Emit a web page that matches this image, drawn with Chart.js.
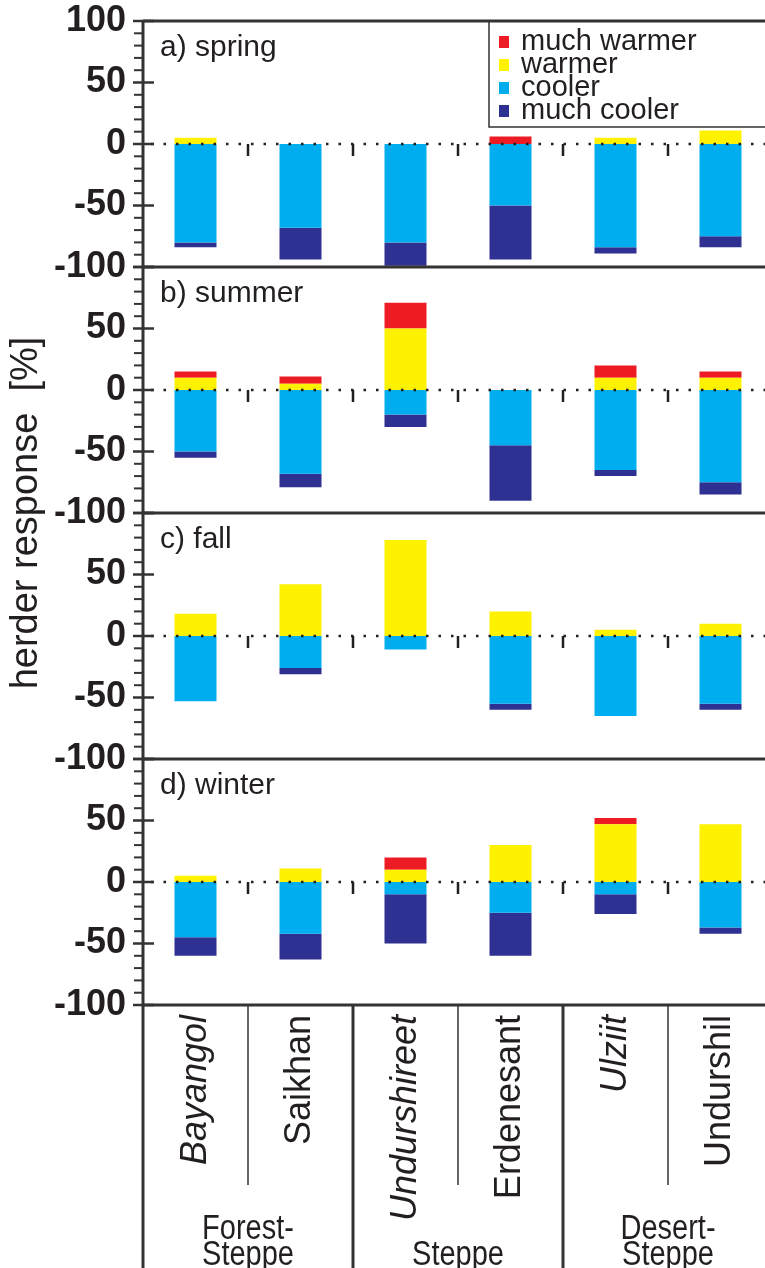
<!DOCTYPE html>
<html>
<head>
<meta charset="utf-8">
<script src="https://cdn.jsdelivr.net/npm/chart.js@4.4.1/dist/chart.umd.min.js"></script>
<style>
  html, body { margin: 0; padding: 0; background: #fff; overflow: hidden; }
  #wrap { width: 780px; height: 1268px; }
</style>
</head>
<body>
<div id="wrap"><canvas id="myChart" width="780" height="1268"></canvas></div>
<script>
// DONNEES (en % des eleveurs)
var sites = ["Bayangol", "Saikhan", "Undurshireet", "Erdenesant", "Ulziit", "Undurshil"];
var italicSites = [true, false, true, false, true, false];
var zones = [["Forest-", "Steppe"], ["", "Steppe"], ["Desert-", "Steppe"]];
var seasons = ["a) spring", "b) summer", "c) fall", "d) winter"];
var seriesNames = ["much warmer", "warmer", "cooler", "much cooler"];
var seriesColors = ["#ed1c24", "#fff200", "#00aeef", "#2e3192"];
var yTicks = [-100, -50, 0, 50, 100];

var springMuchWarmer = [0, 0, 0, 6, 0, 0];
var springWarmer     = [5, 0, 0, 0, 5, 11];
var springCooler     = [-80, -68, -80, -50, -84, -75];
var springMuchCooler = [-4, -26, -19, -44, -5, -9];

var summerMuchWarmer = [5, 6, 21, 0, 10, 5];
var summerWarmer     = [10, 5, 50, 0, 10, 10];
var summerCooler     = [-50, -68, -20, -45, -65, -75];
var summerMuchCooler = [-5, -11, -10, -45, -5, -10];

var fallMuchWarmer = [0, 0, 0, 0, 0, 0];
var fallWarmer     = [18, 42, 78, 20, 5, 10];
var fallCooler     = [-53, -26, -11, -55, -65, -55];
var fallMuchCooler = [0, -5, 0, -5, 0, -5];

var winterMuchWarmer = [0, 0, 10, 0, 5, 0];
var winterWarmer     = [5, 11, 10, 30, 47, 47];
var winterCooler     = [-45, -42, -10, -25, -10, -37];
var winterMuchCooler = [-15, -21, -40, -35, -16, -5];

var panels = [
    [springMuchWarmer, springWarmer, springCooler, springMuchCooler],
    [summerMuchWarmer, summerWarmer, summerCooler, summerMuchCooler],
    [fallMuchWarmer, fallWarmer, fallCooler, fallMuchCooler],
    [winterMuchWarmer, winterWarmer, winterCooler, winterMuchCooler]
];

var FONT = '"Liberation Sans", Arial, sans-serif';
var INK = '#231f20';

// ordre d'empilement : warmer puis much warmer (positif), cooler puis much cooler (negatif)
var stackOrder = [1, 0, 2, 3];
var datasets = [];
for (var p = 0; p < panels.length; p++) {
    for (var k = 0; k < stackOrder.length; k++) {
        var s = stackOrder[k];
        datasets.push({
            label: seriesNames[s],
            data: panels[p][s],
            backgroundColor: seriesColors[s],
            borderWidth: 0,
            yAxisID: 'y' + p,
            stack: 'all',
            barPercentage: 0.4,
            categoryPercentage: 1
        });
    }
}

var scales = {
    x: {
        type: 'category',
        stacked: true,
        position: 'bottom',
        grid: { display: false, drawTicks: false },
        border: { display: false },
        ticks: {
            autoSkip: false,
            minRotation: 90,
            maxRotation: 90,
            padding: 10,
            color: INK,
            font: function(c) {
                return { family: FONT, size: 36, style: italicSites[c.index] ? 'italic' : 'normal' };
            }
        },
        afterFit: function(scale) { scale.height = 263; }
    }
};

function makeY(p) {
    return {
        type: 'linear',
        position: 'left',
        stack: 'panels',
        stackWeight: 1,
        weight: 10 - p,
        stacked: true,
        min: -100,
        max: 100,
        grid: { display: false, drawTicks: false },
        border: { display: false },
        afterBuildTicks: function(scale) {
            scale.ticks = yTicks.map(function(v) { return { value: v }; });
        },
        ticks: {
            autoSkip: false,
            padding: 17,
            color: INK,
            font: { family: FONT, size: 36, weight: 'bold' },
            callback: function(v) {
                if (p > 0 && v === 100) return '';
                return v;
            }
        },
        afterFit: function(scale) {
            scale.width = 143;
            scale.paddingTop = 21;
            scale.paddingBottom = 0;
        }
    };
}
for (var p = 0; p < panels.length; p++) {
    scales['y' + p] = makeY(p);
}

// CADRES, GRADUATIONS, LIGNE ZERO, LEGENDE, ZONES
var decor = {
    id: 'decor',
    afterDatasetsDraw: function(chart) {
        var ctx = chart.ctx;
        var area = chart.chartArea;
        var xs = chart.scales.x;
        var H = chart.height;
        ctx.save();

        for (var p = 0; p < panels.length; p++) {
            var ys = chart.scales['y' + p];
            var zero = ys.getPixelForValue(0);

            // ligne pointillee du zero
            ctx.strokeStyle = INK;
            ctx.lineWidth = 2.5;
            ctx.setLineDash([2.5, 10]);
            ctx.beginPath();
            ctx.moveTo(area.left + 8, zero);
            ctx.lineTo(area.right, zero);
            ctx.stroke();
            ctx.setLineDash([]);

            // petits traits entre les sites
            for (var i = 1; i < sites.length; i++) {
                var xb = (xs.getPixelForValue(i - 1) + xs.getPixelForValue(i)) / 2;
                ctx.beginPath();
                ctx.moveTo(xb, zero);
                ctx.lineTo(xb, zero + 12);
                ctx.stroke();
            }

            // graduations
            ctx.strokeStyle = '#333';
            for (var v = -100; v <= 100; v += 10) {
                var yy = ys.getPixelForValue(v);
                ctx.beginPath();
                if (v % 50 === 0) {
                    ctx.lineWidth = 2.5;
                    ctx.moveTo(area.left - 10, yy);
                    ctx.lineTo(area.left + 11, yy);
                } else {
                    ctx.lineWidth = 2;
                    ctx.moveTo(area.left - 9, yy);
                    ctx.lineTo(area.left, yy);
                }
                ctx.stroke();
            }

            // bord superieur du panneau
            ctx.lineWidth = 3;
            ctx.beginPath();
            ctx.moveTo(area.left, ys.top);
            ctx.lineTo(chart.width, ys.top);
            ctx.stroke();

            // titre du panneau
            ctx.fillStyle = INK;
            ctx.font = '30px ' + FONT;
            ctx.textAlign = 'left';
            ctx.textBaseline = 'alphabetic';
            ctx.fillText(seasons[p], area.left + 17, ys.top + 35);
        }

        // bord bas + axe vertical
        ctx.strokeStyle = '#333';
        ctx.lineWidth = 3;
        ctx.beginPath();
        ctx.moveTo(area.left, area.bottom);
        ctx.lineTo(chart.width, area.bottom);
        ctx.moveTo(area.left, area.top);
        ctx.lineTo(area.left, H);
        ctx.stroke();

        // separateurs sous le graphique
        for (var i = 1; i < sites.length; i++) {
            var xb = (xs.getPixelForValue(i - 1) + xs.getPixelForValue(i)) / 2;
            ctx.beginPath();
            if (i % 2 === 0) {
                ctx.lineWidth = 3;
                ctx.moveTo(xb, area.bottom);
                ctx.lineTo(xb, H);
            } else {
                ctx.lineWidth = 1.5;
                ctx.moveTo(xb, area.bottom);
                ctx.lineTo(xb, 1185);
            }
            ctx.stroke();
        }

        // noms des zones (police un peu etiree en hauteur)
        ctx.fillStyle = INK;
        ctx.font = '29px ' + FONT;
        ctx.textAlign = 'center';
        ctx.textBaseline = 'alphabetic';
        for (var z = 0; z < zones.length; z++) {
            var xc = (xs.getPixelForValue(2 * z) + xs.getPixelForValue(2 * z + 1)) / 2;
            ctx.save();
            ctx.translate(xc, 0);
            ctx.scale(1, 1.2);
            ctx.fillText(zones[z][0], 0, 1239 / 1.2);
            ctx.fillText(zones[z][1], 0, 1265 / 1.2);
            ctx.restore();
        }

        // legende (panneau a)
        var y0s = chart.scales.y0;
        var lx = 489, ltop = y0s.top, lbot = y0s.top + 106;
        ctx.lineWidth = 1.5;
        ctx.strokeStyle = '#333';
        ctx.strokeRect(lx, ltop, chart.width, lbot - ltop);
        ctx.font = '29px ' + FONT;
        ctx.textAlign = 'left';
        ctx.textBaseline = 'middle';
        for (var j = 0; j < seriesNames.length; j++) {
            var cy = ltop + 21 + j * 23;
            ctx.fillStyle = seriesColors[j];
            ctx.fillRect(lx + 10, cy - 6, 10, 12);
            ctx.fillStyle = INK;
            ctx.fillText(seriesNames[j], lx + 32, cy);
        }

        // titre de l'axe y
        ctx.save();
        ctx.translate(27, (area.top + area.bottom) / 2);
        ctx.rotate(-Math.PI / 2);
        ctx.font = '38px ' + FONT;
        ctx.textAlign = 'center';
        ctx.textBaseline = 'middle';
        ctx.fillStyle = INK;
        ctx.fillText('herder response  [%]', 0, 0);
        ctx.restore();

        ctx.restore();
    }
};

new Chart(document.getElementById("myChart"), {
    type: 'bar',
    data: { labels: sites, datasets: datasets },
    options: {
        responsive: false,
        animation: false,
        devicePixelRatio: 1,
        layout: { padding: { top: 0, right: 7, left: 0, bottom: 0 } },
        plugins: {
            legend: { display: false },
            tooltip: { enabled: false },
            title: { display: false }
        },
        scales: scales
    },
    plugins: [decor]
});
</script>
</body>
</html>
